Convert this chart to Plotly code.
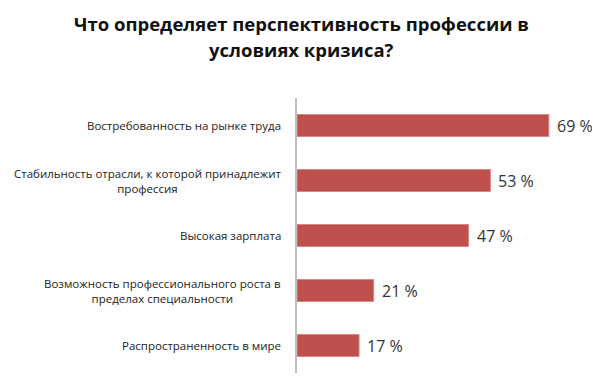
import plotly.graph_objects as go

categories = [
    "Востребованность на рынке труда",
    "Стабильность отрасли, к которой принадлежит<br>профессия",
    "Высокая зарплата",
    "Возможность профессионального роста в<br>пределах специальности",
    "Распространенность в мире",
]
values = [69, 53, 47, 21, 17]
value_labels = [f"{v} %" for v in values]

title_lines = ["Что определяет перспективность профессии в", "условиях кризиса?"]

FONT = "Open Sans, Noto Sans, sans-serif"

# page offset (browser body margin) compensation
D = 8
L, T = 297 - D, 98 - D
R = 600 - (589 - D)
B = 385 - (373 - D)
W_PLOT = 600 - L - R
H_PLOT = 385 - T - B

fig = go.Figure()
fig.add_trace(go.Bar(
    y=categories,
    x=values,
    orientation="h",
    marker=dict(color="#C0504D", line=dict(color="#D98886", width=1)),
    width=0.4,
    hoverinfo="x+y",
))

for c, v, lab in zip(categories, values, value_labels):
    fig.add_annotation(
        x=v, xref="x", y=c, yref="y",
        text=lab, showarrow=False, xanchor="left", yanchor="middle",
        xshift=6,
        font=dict(family=FONT, size=16, color="#333333"),
    )
    fig.add_annotation(
        x=0, xref="paper", y=c, yref="y",
        text=c, showarrow=False, xanchor="right", yanchor="middle",
        align="center", xshift=-14,
        font=dict(family=FONT, size=11.5, color="#222222"),
    )

for line, ypx in zip(title_lines, [23, 50]):
    fig.add_annotation(
        x=(301 - D - L) / W_PLOT, xref="paper",
        y=1 + (98 - ypx) / H_PLOT, yref="paper",
        xanchor="center", yanchor="middle", showarrow=False,
        text=f"<b>{line}</b>",
        font=dict(family=FONT, size=18.5, color="#111111"),
    )

fig.update_layout(
    width=600, height=385,
    margin=dict(l=L, r=R, t=T, b=B),
    paper_bgcolor="white", plot_bgcolor="white",
    showlegend=False,
    xaxis=dict(range=[0, 80], visible=False),
    yaxis=dict(
        autorange="reversed", showticklabels=False, showgrid=False,
        showline=True, linecolor="#BFBFBF", linewidth=2, ticks="",
        zeroline=False,
    ),
)

fig.write_html("out.html")
